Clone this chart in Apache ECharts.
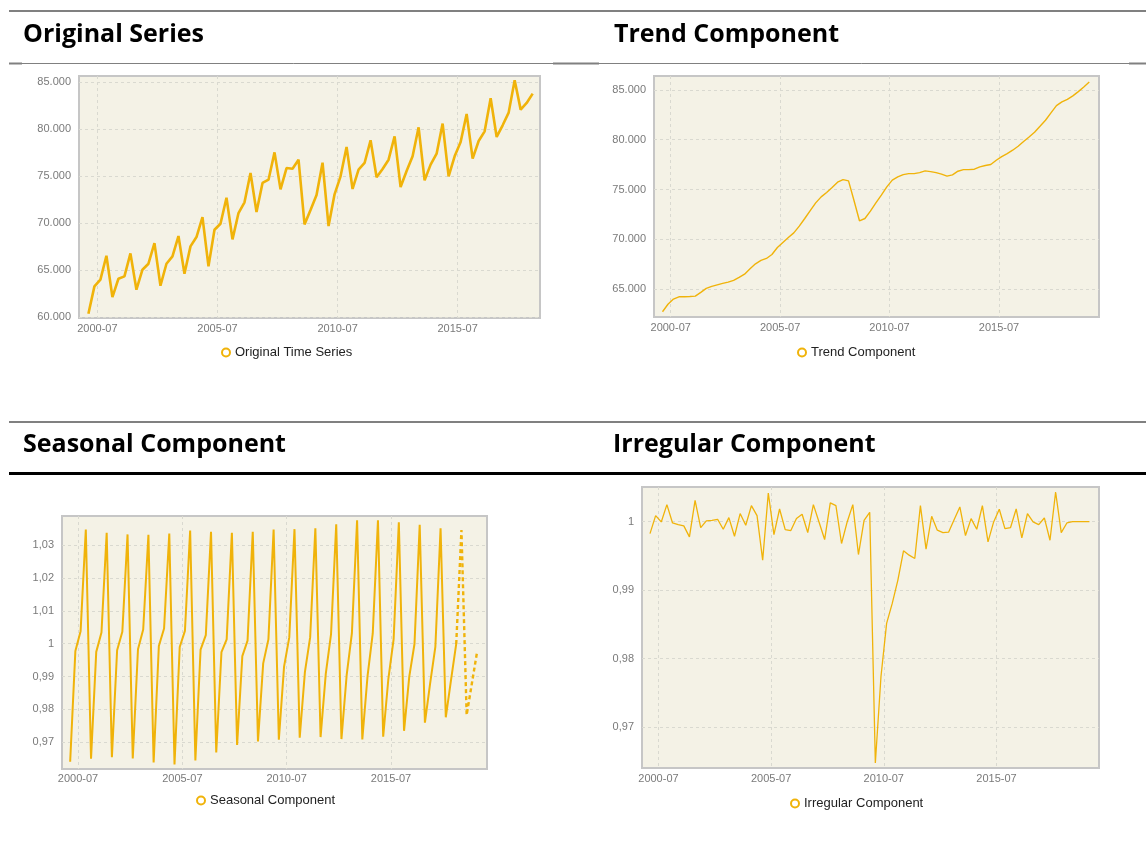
<!DOCTYPE html>
<html>
<head>
<meta charset="utf-8">
<script src="https://cdn.jsdelivr.net/npm/echarts@6/dist/echarts.min.js"></script>
<style>
  html, body { margin: 0; padding: 0; background: #ffffff; }
  #chart { width: 1146px; height: 868px; }
</style>
</head>
<body>
<div id="chart"></div>
<script>
// ---- data ----
const periods = [
  '2000-Q1','2000-Q2','2000-Q3','2000-Q4','2001-Q1','2001-Q2','2001-Q3','2001-Q4',
  '2002-Q1','2002-Q2','2002-Q3','2002-Q4','2003-Q1','2003-Q2','2003-Q3','2003-Q4',
  '2004-Q1','2004-Q2','2004-Q3','2004-Q4','2005-Q1','2005-Q2','2005-Q3','2005-Q4',
  '2006-Q1','2006-Q2','2006-Q3','2006-Q4','2007-Q1','2007-Q2','2007-Q3','2007-Q4',
  '2008-Q1','2008-Q2','2008-Q3','2008-Q4','2009-Q1','2009-Q2','2009-Q3','2009-Q4',
  '2010-Q1','2010-Q2','2010-Q3','2010-Q4','2011-Q1','2011-Q2','2011-Q3','2011-Q4',
  '2012-Q1','2012-Q2','2012-Q3','2012-Q4','2013-Q1','2013-Q2','2013-Q3','2013-Q4',
  '2014-Q1','2014-Q2','2014-Q3','2014-Q4','2015-Q1','2015-Q2','2015-Q3','2015-Q4',
  '2016-Q1','2016-Q2','2016-Q3','2016-Q4','2017-Q1','2017-Q2','2017-Q3','2017-Q4',
  '2018-Q1','2018-Q2','2018-Q3','2018-Q4','2019-Q1','2019-Q2','2019-Q3'
];

const originalSeries = [
  60360, 63270, 63980, 66530,  62130, 64080, 64330, 66780,
  62910, 65040, 65680, 67880,  63340, 65680, 66460, 68630,
  64620, 67530, 68520, 70650,  65400, 69300, 69940, 72710,
  68270, 71080, 72220, 75340,  71190, 74280, 74630, 77540,
  73600, 75870, 75800, 76760,  69870, 71400, 73000, 76440,
  69690, 73070, 74990, 78110,  73640, 75700, 76410, 78820,
  74880, 75770, 76760, 79250,  73850, 75550, 77120, 80210,
  74560, 76230, 77400, 80600,  74990, 77120, 78640, 81630,
  76870, 78750, 79780, 83300,  79180, 80420, 81770, 85210,
  82090, 82800, 83790
];

const trendComponent = [
  62730, 63480, 64000, 64230, 64230, 64260, 64300, 64670, 65070, 65270,
  65430, 65570, 65700, 65870, 66170, 66500, 67040, 67540, 67880, 68080,
  68480, 69180, 69680, 70180, 70650, 71320, 72090, 72890, 73660, 74260,
  74700, 75200, 75740, 76000, 75870, 73900, 71860, 72090, 72830, 73660,
  74430, 75270, 75940, 76270, 76500, 76600, 76600, 76700, 76870, 76800,
  76700, 76540, 76340, 76470, 76840, 77000, 77000, 77040, 77270, 77410,
  77510, 77940, 78310, 78610, 78950, 79350, 79820, 80280, 80750, 81350,
  81960, 82690, 83430, 83800, 84060, 84400, 84830, 85300, 85800
];

const seasonalComponent = [
  0.9641, 0.9978, 1.0038, 1.0347,  0.9650, 0.9975, 1.0034, 1.0337,
  0.9655, 0.9980, 1.0036, 1.0332,  0.9651, 0.9983, 1.0043, 1.0331,
  0.9639, 0.9993, 1.0046, 1.0335,  0.9633, 0.9990, 1.0039, 1.0344,
  0.9645, 0.9982, 1.0026, 1.0340,  0.9669, 0.9974, 1.0013, 1.0337,
  0.9692, 0.9962, 1.0009, 1.0340,  0.9703, 0.9940, 1.0013, 1.0347,
  0.9708, 0.9930, 1.0019, 1.0348,  0.9714, 0.9914, 1.0019, 1.0351,
  0.9716, 0.9909, 1.0028, 1.0363,  0.9710, 0.9904, 1.0031, 1.0375,
  0.9709, 0.9901, 1.0031, 1.0375,  0.9717, 0.9894, 1.0013, 1.0369,
  0.9735, 0.9900, 0.9999, 1.0361,  0.9760, 0.9879, 0.9990, 1.0351,
  0.9776, 0.9889, 0.9999
];
// forecast part (dashed), starting at the last observed quarter 2018-Q3
const seasonalForecastPeriods = ['2018-Q3','2018-Q4','2019-Q1','2019-Q2','2019-Q3'];
const seasonalForecast = [0.9999, 1.0345, 0.9783, 0.9879, 0.9975];

const irregularComponent = [
  0.99825, 1.00087, 0.99995, 1.00248, 0.99980, 0.99956, 0.99937, 0.99777, 1.00311, 0.99913,
  1.00010, 1.00019, 1.00034, 0.99888, 1.00058, 0.99786, 1.00117, 0.99947, 1.00233, 1.00087,
  0.99437, 1.00417, 0.99811, 1.00184, 0.99883, 0.99869, 1.00044, 1.00107, 0.99840, 1.00248,
  0.99995, 0.99738, 1.00272, 1.00233, 0.99680, 0.99995, 1.00248, 0.99519, 1.00019, 1.00136,
  0.96476, 0.97738, 0.98515, 0.98806, 0.99146, 0.99573, 0.99510, 0.99461, 1.00233, 0.99597,
  1.00078, 0.99874, 0.99840, 0.99845, 1.00029, 1.00214, 0.99796, 1.00044, 0.99888, 1.00233,
  0.99704, 0.99995, 1.00180, 0.99898, 0.99913, 1.00184, 0.99762, 1.00117, 0.99995, 0.99956,
  1.00053, 0.99728, 1.00432, 0.99840, 0.99980, 1.00000, 1.00000, 1.00000, 1.00000
];

const xTickLabels = ['2000-07', '2005-07', '2010-07', '2015-07'];
const panelTitles = ['Original Series', 'Trend Component', 'Seasonal Component', 'Irregular Component'];
const seriesNames = ['Original Time Series', 'Trend Component', 'Seasonal Component', 'Irregular Component'];

// ---- helpers ----
// x value = years since 2000-07, at mid-quarter
function periodToX(p) {
  const y = parseInt(p.slice(0, 4), 10);
  const q = parseInt(p.slice(6), 10);
  return y + (q - 1) * 0.25 + 0.125 - 2000.5;
}
function pairs(per, vals) { return vals.map((v, i) => [periodToX(per[i]), v]); }

const COLOR = '#f0b30a';
const LABEL_FONT = { color: '#7a7a7a', fontSize: 11, fontFamily: 'Liberation Sans, Arial, sans-serif' };

function fmtThousands(v) {
  return Math.round(v).toString().replace(/\B(?=(\d{3})+(?!\d))/g, '.');
}
function fmtDecimal(v) {
  return String(parseFloat(v.toFixed(4))).replace('.', ',');
}
function fmtX(v) {
  const k = Math.round(v / 5);
  if (Math.abs(v - k * 5) > 1e-6) return '';
  return xTickLabels[k] || '';
}

function xAxis(gi, min, max, margin) {
  return {
    type: 'value', gridIndex: gi, min: min, max: max,
    minInterval: 5, maxInterval: 5, splitNumber: 4,
    axisLine: { show: false }, axisTick: { show: false },
    axisLabel: Object.assign({ margin: margin, formatter: fmtX, showMinLabel: false, showMaxLabel: false }, LABEL_FONT),
    splitLine: { show: true, showMinLine: false, showMaxLine: false, lineStyle: { color: '#d9d9d0', type: [3, 3], width: 1 } }
  };
}
function yAxis(gi, min, max, step, fmt) {
  return {
    type: 'value', gridIndex: gi, min: min, max: max,
    minInterval: step, maxInterval: step, splitNumber: 5,
    axisLine: { show: false }, axisTick: { show: false },
    axisLabel: Object.assign({ margin: 8, formatter: fmt, showMinLabel: false, showMaxLabel: false }, LABEL_FONT),
    splitLine: { show: true, showMinLine: false, showMaxLine: false, lineStyle: { color: '#d9d9d0', type: [3, 3], width: 1 } }
  };
}
function grid(l, t, w, h) {
  return { left: l, top: t, width: w, height: h, show: true, backgroundColor: '#f4f2e6', borderColor: '#c6c6c6', borderWidth: 2, containLabel: false };
}
function title(text, l, t) {
  return { text: text, left: l, top: t, padding: 0,
    textStyle: { fontFamily: 'Open Sans, sans-serif', fontSize: 25, fontWeight: 'bold', color: '#000' } };
}
function legend(name, l, t, bw) {
  return { data: [name], left: l, top: t, padding: 0, icon: 'emptyCircle', itemWidth: 8, itemHeight: 8, itemGap: 10,
    itemStyle: { borderWidth: bw, borderColor: COLOR, color: COLOR },
    textStyle: { color: '#222', fontSize: 13, fontFamily: 'Liberation Sans, Arial, sans-serif' },
    selectedMode: false };
}
function hline(x1, x2, y, w, c) {
  return { type: 'line', shape: { x1: x1, y1: y, x2: x2, y2: y }, style: { stroke: c, lineWidth: w }, silent: true };
}
function lineSeries(name, data, xi, width, extra) {
  return Object.assign({
    name: name, type: 'line', xAxisIndex: xi, yAxisIndex: xi, data: data,
    showSymbol: false, symbol: 'emptyCircle', smooth: false, animation: false,
    lineStyle: { color: COLOR, width: width }, itemStyle: { color: COLOR }
  }, extra || {});
}

const chart = echarts.init(document.getElementById('chart'), null, { renderer: 'canvas' });
chart.setOption({
  animation: false,
  backgroundColor: '#ffffff',
  title: [
    title(panelTitles[0], 23, 22),
    title(panelTitles[1], 614, 22),
    title(panelTitles[2], 23, 432),
    title(panelTitles[3], 613, 432)
  ],
  legend: [
    legend(seriesNames[0], 221, 346, 2),
    legend(seriesNames[1], 797, 346, 1.3),
    legend(seriesNames[2], 196, 794, 2),
    legend(seriesNames[3], 790, 797, 1.3)
  ],
  grid: [
    grid(79, 76, 461, 242),
    grid(654, 76, 445, 241),
    grid(62, 516, 425, 253),
    grid(642, 487, 457, 281)
  ],
  xAxis: [
    xAxis(0, -0.767, 18.43, 5),
    xAxis(1, -0.763, 19.57, 5),
    xAxis(2, -0.766, 19.6, 4),
    xAxis(3, -0.73, 19.55, 5)
  ],
  yAxis: [
    yAxis(0, 59900, 85670, 5000, fmtThousands),
    yAxis(1, 62200, 86400, 5000, fmtThousands),
    yAxis(2, 0.9619, 1.0388, 0.01, fmtDecimal),
    yAxis(3, 0.96403, 1.00505, 0.01, fmtDecimal)
  ],
  series: [
    lineSeries(seriesNames[0], pairs(periods, originalSeries), 0, 2.6),
    lineSeries(seriesNames[1], pairs(periods, trendComponent), 1, 1.4),
    lineSeries(seriesNames[2], pairs(periods, seasonalComponent), 2, 2),
    lineSeries('Seasonal Forecast', pairs(seasonalForecastPeriods, seasonalForecast), 2, 2.4,
      { lineStyle: { color: COLOR, width: 2.4, type: [4, 3] } }),
    lineSeries(seriesNames[3], pairs(periods, irregularComponent), 3, 1.3)
  ],
  graphic: [
    hline(9, 1146, 11, 2, '#808080'),
    hline(9, 1146, 63.5, 1, '#808080'),
    hline(9, 22, 63.5, 2, '#808080'),
    hline(553, 599, 63.5, 2, '#808080'),
    hline(1129, 1146, 63.5, 2, '#808080'),
    hline(9, 1146, 422, 2, '#808080'),
    hline(9, 1146, 473.5, 3, '#000000')
  ]
});
</script>
</body>
</html>
